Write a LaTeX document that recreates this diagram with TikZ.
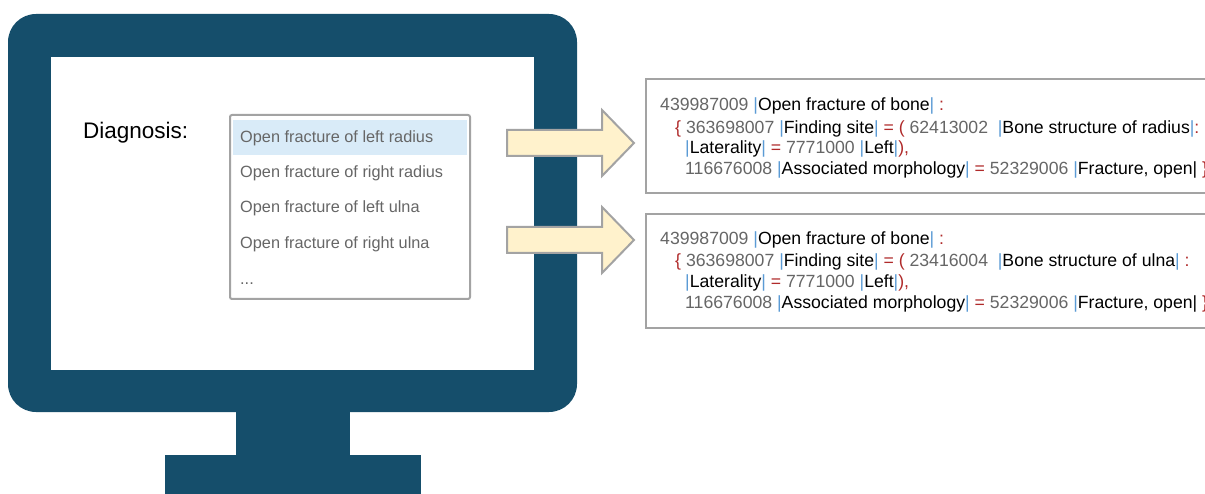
\documentclass[tikz,border=0pt]{standalone}
\usepackage{fontspec}
\setmainfont{Liberation Sans}
\usetikzlibrary{positioning}

\definecolor{monitorblue}{HTML}{154E6B}
\definecolor{pickblue}{HTML}{D9EBF8}
\definecolor{framegray}{HTML}{A3A3A3}
\definecolor{arrowfill}{HTML}{FFF2CC}
\definecolor{codegray}{HTML}{666666}
\definecolor{barblue}{HTML}{5B9BD5}
\definecolor{opred}{HTML}{B02A2A}

\newcommand{\sctid}[1]{\textcolor{codegray}{#1}}
\newcommand{\opsign}[1]{\textcolor{opred}{#1}}
\newcommand{\bluebar}{\textcolor{barblue}{|}}
\newcommand{\term}[1]{\bluebar\textcolor{black}{#1}\bluebar}

\tikzset{
  monitor/.style={fill=monitorblue, draw=none},
  pickitem/.style={anchor=base west, inner sep=0pt, text=codegray, font=\fontsize{16.3}{18}\selectfont},
  codebox/.style={draw=framegray, line width=2pt, fill=white},
  codeline/.style={anchor=base west, inner sep=0pt, font=\fontsize{17.65}{20}\selectfont},
  fatarrow/.style={draw=framegray, line width=2pt, fill=arrowfill, line join=miter},
}

\begin{document}
\begin{tikzpicture}[x=1pt,y=-1pt]
\useasboundingbox (0,0) rectangle (1205,494);
\clip (0,0) rectangle (1205,494);

% monitor
\fill[monitor] (165,455) rectangle (421,494);
\fill[monitor] (236,405) rectangle (350,455);
\fill[monitor, rounded corners=28pt] (8,14) rectangle (577,412);
\fill[white] (51,57) rectangle (534,370);

\node (diag) [anchor=base west, inner sep=0pt, font=\fontsize{22.5}{26}\selectfont] at (83,139) {Diagnosis:};

% drop down list
\draw[draw=framegray, line width=2pt, fill=white, rounded corners=2pt] (230,115) rectangle (470,299);
\fill[pickblue] (233,120) rectangle (467,155);
\node (P1) [pickitem] at (240,143) {Open fracture of left radius};
\node (P2) [pickitem] at (240,178) {Open fracture of right radius};
\node (P3) [pickitem] at (240,213) {Open fracture of left ulna};
\node (P4) [pickitem] at (240,249) {Open fracture of right ulna};
\node (P5) [pickitem] at (240,285) {...};

% arrows
\draw[fatarrow] (507,130) -- (602,130) -- (602,110) -- (634,143) -- (602,176) -- (602,156) -- (507,156) -- cycle;
\draw[fatarrow] (507,227) -- (602,227) -- (602,207) -- (634,240) -- (602,273) -- (602,253) -- (507,253) -- cycle;

% first expression
\draw[codebox] (646,79) rectangle (1215,193);
\node (A1) [codeline] at (660,111) {\sctid{439987009} \term{Open fracture of bone} \opsign{:}};
\node (A2) [codeline] at (675,134) {\opsign{\{} \sctid{363698007} \term{Finding site} \opsign{= (} \sctid{62413002}\ \ \term{Bone structure of radius}\opsign{:}};
\node (A3) [codeline] at (685,154) {\term{Laterality} \opsign{=} \sctid{7771000} \term{Left}\opsign{),}};
\node (A4) [codeline] at (685,175) {\sctid{116676008} \term{Associated morphology} \opsign{=} \sctid{52329006} \bluebar Fracture, open| \opsign{\}}};

% second expression
\draw[codebox] (646,214) rectangle (1215,328);
\node (B1) [codeline] at (660,245) {\sctid{439987009} \term{Open fracture of bone} \opsign{:}};
\node (B2) [codeline] at (675,267) {\opsign{\{} \sctid{363698007} \term{Finding site} \opsign{= (} \sctid{23416004}\ \ \term{Bone structure of ulna} \opsign{:}};
\node (B3) [codeline] at (685,288) {\term{Laterality} \opsign{=} \sctid{7771000} \term{Left}\opsign{),}};
\node (B4) [codeline] at (685,309) {\sctid{116676008} \term{Associated morphology} \opsign{=} \sctid{52329006} \bluebar Fracture, open| \opsign{\}}};
\end{tikzpicture}
\end{document}
